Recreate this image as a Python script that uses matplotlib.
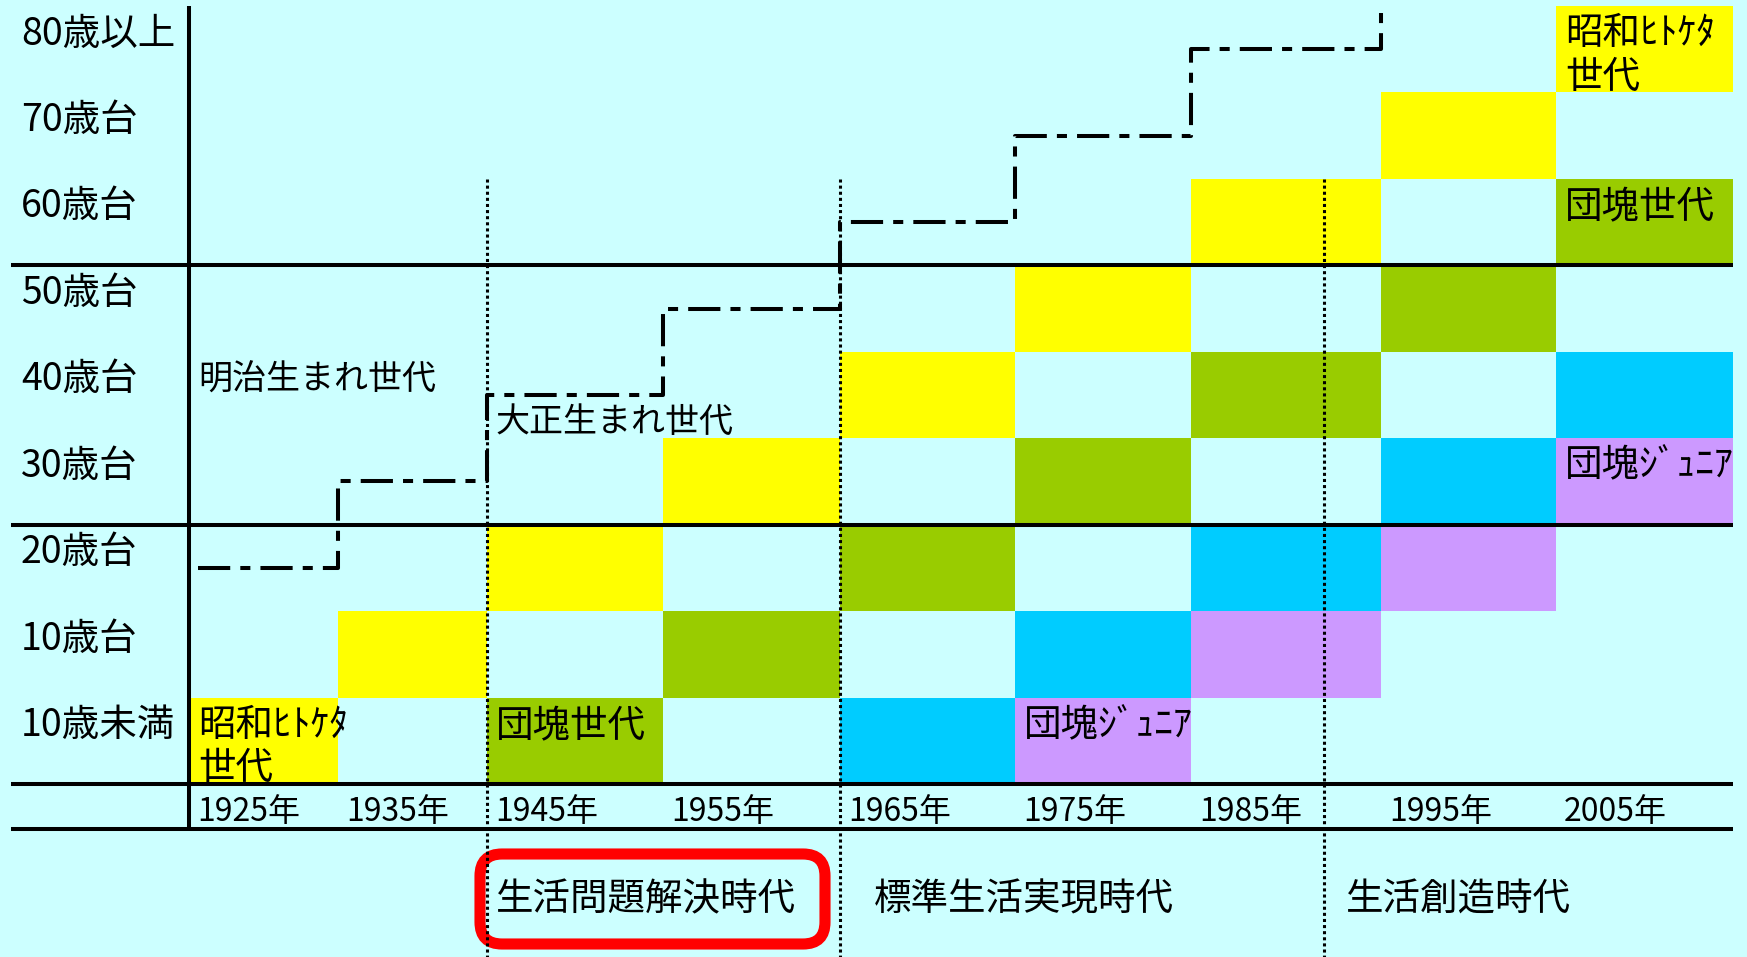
"""
Generation map: age group vs. year, with life-style eras below.
"""

import numpy as np
import matplotlib.pyplot as plt
from matplotlib.patches import FancyBboxPatch

plt.rcParams['font.family'] = ['Noto Sans CJK JP', 'DejaVu Sans']

years = ['1925年', '1935年', '1945年', '1955年', '1965年', '1975年', '1985年', '1995年', '2005年']
age_groups = ['10歳未満', '10歳台', '20歳台', '30歳台', '40歳台', '50歳台', '60歳台', '70歳台', '80歳以上']

# which generation fills each cell, oldest age group first
cell_rows = [
    '........Y',  # 80歳以上
    '.......Y.',  # 70歳台
    '......Y.G',  # 60歳台
    '.....Y.G.',  # 50歳台
    '....Y.G.C',  # 40歳台
    '...Y.G.CP',  # 30歳台
    '..Y.G.CP.',  # 20歳台
    '.Y.G.CP..',  # 10歳台
    'Y.G.CP...',  # 10歳未満
]
gen_colors = {'Y': '#FFFF00', 'G': '#99CC00', 'C': '#00CCFF', 'P': '#CC99FF'}

# (column, age row, text)
cell_labels = [(0, 0, '昭和ﾋﾄｹﾀ\n世代'), (2, 0, '団塊世代'), (5, 0, '団塊ｼﾞｭﾆｱ'),
               (8, 8, '昭和ﾋﾄｹﾀ\n世代'), (8, 6, '団塊世代'), (8, 3, '団塊ｼﾞｭﾆｱ')]

# 明治 / 大正 boundary, age level (in rows) for each decade column
boundary_level = [2.5, 3.5, 4.5, 5.5, 6.5, 7.5, 8.5]
era_labels = [('明治生まれ世代', 0, 4, 0), ('大正生まれ世代', 2, 4, 1)]  # text, col, row, line

periods = ['生活問題解決時代', '標準生活実現時代', '生活創造時代']
period_start = [1945, 1965, 1992]

# ---- layout (pixels) ----
W, H = 1747, 957
col_w = [149, 149, 176, 177, 175, 176, 190, 175, 177]
col_edges = 189 + np.concatenate([[0], np.cumsum(col_w)])
decade_edges = [int(y[:4]) for y in years] + [2015]
row_h = 86.44
grid_bottom = 784
band_bottom = 829
period_pad = [9, 34, 22]
txt_dy = 28   # first text line sits this far below a row's top edge
bg = '#CCFFFF'


def y_of(r):
    return grid_bottom - r * row_h


def main():
    fig = plt.figure(figsize=(W / 100, H / 100), dpi=100)
    fig.patch.set_facecolor(bg)
    ax = fig.add_axes([0, 0, 1, 1])
    ax.set_xlim(0, W)
    ax.set_ylim(H, 0)
    ax.axis('off')

    # cells
    for ri, row in enumerate(cell_rows):
        r = len(cell_rows) - 1 - ri
        for c, code in enumerate(row):
            if code == '.':
                continue
            ax.bar(col_edges[c], row_h, width=col_w[c], bottom=y_of(r + 1),
                   align='edge', color=gen_colors[code], lw=0)

    # period boundaries (dotted)
    xp = np.interp(period_start, decade_edges, col_edges)
    ax.vlines(xp, y_of(7), H, colors='black', linestyles=(0, (1, 1)), lw=2.2)

    # grid lines
    ax.hlines([y_of(6), y_of(3), y_of(0), band_bottom], 11, col_edges[-1],
              colors='black', lw=2.9)
    ax.vlines(col_edges[0], y_of(9), band_bottom, colors='black', lw=2.9)

    # 明治/大正 boundary staircase
    xs = [col_edges[0] + 9] + list(col_edges[1:8])
    ys = [y_of(v) for v in boundary_level] + [y_of(9)]
    ax.step(xs, ys, where='post', color='black', lw=2.9,
            dashes=(8, 2.5, 2.5, 2.5))

    # age labels
    for r, lab in enumerate(age_groups):
        ax.text(21, y_of(r + 1) + txt_dy, lab, fontsize=27, ha='left', va='center')

    # year labels
    for c, lab in enumerate(years):
        ax.text(col_edges[c] + 8, (grid_bottom + band_bottom) / 2 + 5, lab,
                fontsize=23, ha='left', va='center')

    # generation labels
    for c, r, lab in cell_labels:
        top = y_of(r + 1)
        yy = top + txt_dy + 21.5 if '\n' in lab else top + txt_dy
        ax.text(col_edges[c] + 9, yy, lab, fontsize=27, ha='left', va='center',
                linespacing=1.15)

    for lab, c, r, line in era_labels:
        ax.text(col_edges[c] + 9, y_of(r + 1) + txt_dy + line * 43, lab,
                fontsize=24.5, ha='left', va='center')

    # eras
    for lab, x0, pad in zip(periods, xp, period_pad):
        ax.text(x0 + pad, 900, lab, fontsize=27, ha='left', va='center')

    box = FancyBboxPatch((xp[0] - 7, 854), 345, 90,
                         boxstyle='round,pad=0,rounding_size=22',
                         fc='none', ec='#FF0000', lw=8)
    ax.add_patch(box)

    fig.savefig('out.png', dpi=100, facecolor=bg)


if __name__ == "__main__":
    main()
